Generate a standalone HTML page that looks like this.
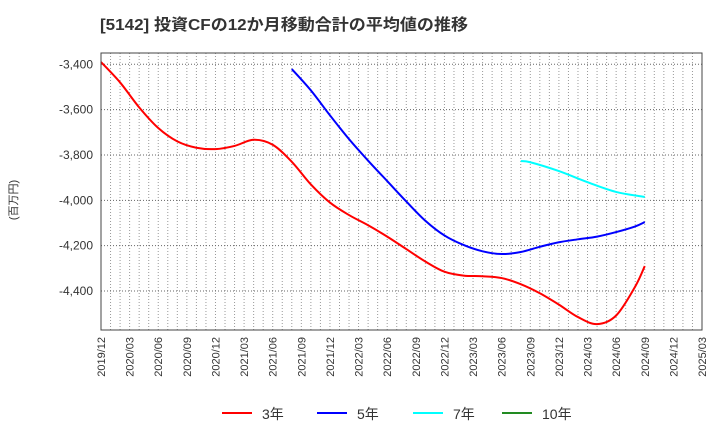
<!DOCTYPE html>
<html><head><meta charset="utf-8"><style>
body{margin:0;background:#fff;font-family:"Liberation Sans","Noto Sans CJK JP",sans-serif;}
svg text{font-family:"Liberation Sans","Noto Sans CJK JP",sans-serif;}
</style></head><body>
<svg id="c" width="720" height="440" xmlns="http://www.w3.org/2000/svg">
<text x="100" y="30" font-size="16" font-weight="bold" fill="#333" textLength="368" lengthAdjust="spacingAndGlyphs">[5142]  投資CFの12か月移動合計の平均値の推移</text>
<text transform="translate(17,200) rotate(-90)" text-anchor="middle" font-size="11" fill="#333">(百万円)</text>
<g id="grid"></g><g id="ax"></g><g id="lines"></g>
<rect x="101" y="53" width="601" height="277" fill="none" stroke="#444" stroke-width="1"/>
<g id="legend"></g>
</svg>
<script>
const xLabels=["2019/12","2020/03","2020/06","2020/09","2020/12","2021/03","2021/06","2021/09","2021/12","2022/03","2022/06","2022/09","2022/12","2023/03","2023/06","2023/09","2023/12","2024/03","2024/06","2024/09","2024/12","2025/03"];
const yTicks=[-3400,-3600,-3800,-4000,-4200,-4400];
const s3Months=[0,2,4,6,8,10,12,14,16,18,20,22,24,26,28,30,32,34,36,38,40,42,44,46,48,50,52,54,56,57];
const s3Values=[-3390,-3480,-3590,-3681,-3740,-3768,-3774,-3760,-3733,-3755,-3830,-3930,-4010,-4065,-4110,-4160,-4215,-4270,-4315,-4332,-4335,-4343,-4370,-4410,-4460,-4515,-4546,-4508,-4380,-4290];
const s5Months=[20,22,24,26,28,30,32,34,36,38,40,42,44,46,48,50,52,54,56,57];
const s5Values=[-3421,-3515,-3625,-3730,-3825,-3915,-4005,-4090,-4155,-4197,-4225,-4237,-4228,-4205,-4185,-4172,-4160,-4140,-4115,-4096];
const s7Months=[44,45,48,51,54,57];
const s7Values=[-3827,-3832,-3871,-3920,-3963,-3985];
const s10Months=[];
const s10Values=[];
const X0=101,X1=702,Y0=53,Y1=330,NM=63;
const xs=m=>X0+(X1-X0)*m/NM;
const ys=v=>64.3+(-3400-v)*(291-64.3)/1000;
const NS="http://www.w3.org/2000/svg";
function mk(t,a,p){const e=document.createElementNS(NS,t);for(const k in a)e.setAttribute(k,a[k]);p.appendChild(e);return e;}
const grid=document.getElementById('grid'),ax=document.getElementById('ax'),lines=document.getElementById('lines'),lg=document.getElementById('legend');
for(let m=1;m<NM;m++){const l=mk('line',{x1:xs(m),x2:xs(m),y1:Y0,y2:Y1,stroke:'#999','stroke-width':1,'stroke-dasharray':'1,2'},grid);

}
yTicks.forEach(v=>{const l=mk('line',{x1:X0,x2:X1,y1:ys(v),y2:ys(v),stroke:'#666','stroke-width':1,'stroke-dasharray':'1,2'},grid);


const t=mk('text',{x:93,y:ys(v)+4,'text-anchor':'end','font-size':12,fill:'#333'},ax);t.textContent=v.toLocaleString('en-US');

});
xLabels.forEach((s,i)=>{const x=xs(i*3);const t=mk('text',{transform:`translate(${x+4},337) rotate(-90)`,'text-anchor':'end','font-size':11,fill:'#333'},ax);t.textContent=s;

});
function path(ms,vs){const p=ms.map((m,i)=>[xs(m),ys(vs[i])]);if(p.length<2)return '';let d=`M${p[0][0]},${p[0][1]}`;
for(let i=0;i<p.length-1;i++){const a=p[Math.max(0,i-1)],b=p[i],c=p[i+1],e=p[Math.min(p.length-1,i+2)];
d+=` C${b[0]+(c[0]-a[0])/6},${b[1]+(c[1]-a[1])/6} ${c[0]-(e[0]-b[0])/6},${c[1]-(e[1]-b[1])/6} ${c[0]},${c[1]}`;}return d;}
const series=[[s3Months,s3Values,'#f00','series-3yr','3年',222],[s5Months,s5Values,'#00f','series-5yr','5年',317],[s7Months,s7Values,'#0ff','series-7yr','7年',413],[s10Months,s10Values,'#228b22','series-10yr','10年',502]];
series.forEach(([ms,vs,c,n,lab,lx])=>{const d=path(ms,vs);if(d){const p=mk('path',{d:d,fill:'none',stroke:c,'stroke-width':2},lines);

}
const g=mk('g',{},lg);


mk('line',{x1:lx,x2:lx+30,y1:413,y2:413,stroke:c,'stroke-width':2},g);
const t=mk('text',{x:lx+40,y:419,'font-size':14,fill:'#333'},g);t.textContent=lab;});
</script>
</body></html>
